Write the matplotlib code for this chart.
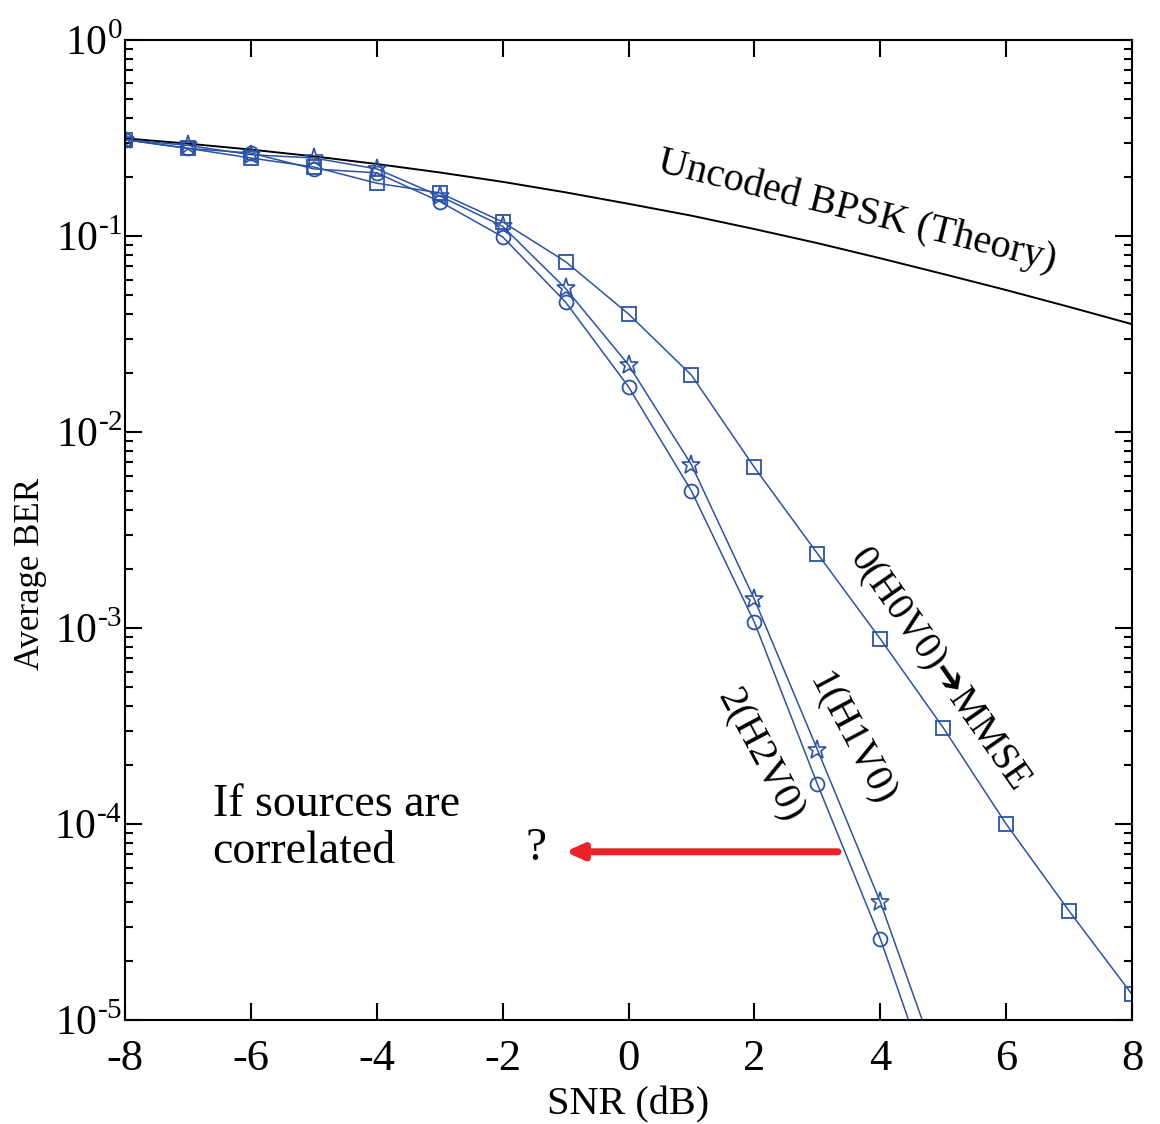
import numpy as np
import matplotlib
matplotlib.use("Agg")
import matplotlib.pyplot as plt
from matplotlib.ticker import LogLocator, FixedLocator, FuncFormatter

plt.rcParams['font.family'] = ['Liberation Serif', 'DejaVu Serif']
plt.rcParams['mathtext.fontset'] = 'custom'
plt.rcParams['mathtext.rm'] = 'Liberation Serif'
plt.rcParams['axes.unicode_minus'] = False

# SNR grid (dB)
snr = [-8, -7, -6, -5, -4, -3, -2, -1, 0, 1, 2, 3, 4, 5, 6, 7, 8]
snr_short = [-8, -7, -6, -5, -4, -3, -2, -1, 0, 1, 2, 3, 4, 5]

# values
ber_theory = [0.315, 0.296, 0.276, 0.255, 0.233, 0.211, 0.189, 0.167, 0.146,
              0.127, 0.1085, 0.092, 0.077, 0.064, 0.053, 0.0435, 0.0355]
ber_h0v0 = [0.31, 0.28, 0.25, 0.225, 0.186, 0.166, 0.118, 0.074, 0.040,
            0.0195, 0.0066, 0.0024, 8.8e-4, 3.1e-4, 1.0e-4, 3.6e-5, 1.35e-5]
ber_h1v0 = [0.31, 0.29, 0.26, 0.25, 0.22, 0.16, 0.112, 0.054, 0.022,
            0.0068, 0.0014, 2.4e-4, 4.0e-5, 5.0e-6]
ber_h2v0 = [0.31, 0.28, 0.265, 0.22, 0.21, 0.15, 0.099, 0.046, 0.017,
            0.005, 1.07e-3, 1.6e-4, 2.6e-5, 3.1e-6]

blue = '#2a52a8'


def decade_label(v, pos):
    # matlab style exponent with a plain hyphen
    e = int(round(np.log10(v)))
    if e < 0:
        return r'$10^{\text{-}%d}$' % (-e)
    return r'$10^{%d}$' % e


fig = plt.figure(figsize=(11.6, 11.24), dpi=100)
ax = fig.add_axes([0.1078, 0.0925, 0.8681, 0.8719])

ax.semilogy(snr, ber_theory, color='black', lw=1.4)
ax.semilogy(snr, ber_h0v0, color=blue, lw=1.1, marker='s', ms=10,
            mfc='none', mec=blue, mew=1.3)
ax.semilogy(snr_short, ber_h1v0, color=blue, lw=1.1, marker='*', ms=14,
            mfc='none', mec=blue, mew=1.2)
ax.semilogy(snr_short, ber_h2v0, color=blue, lw=1.1, marker='o', ms=10,
            mfc='none', mec=blue, mew=1.3)

ax.set_xlim(-8, 8)
ax.set_ylim(1e-5, 1)
ax.xaxis.set_major_locator(FixedLocator([-8, -6, -4, -2, 0, 2, 4, 6, 8]))
ax.yaxis.set_major_locator(LogLocator(base=10, numticks=10))
ax.yaxis.set_minor_locator(LogLocator(base=10, subs=np.arange(2, 10), numticks=20))
ax.yaxis.set_major_formatter(FuncFormatter(decade_label))
ax.tick_params(which='both', direction='in', top=True, right=True,
               labelsize=32, width=1.5)
ax.tick_params(which='major', length=12, pad=14)
ax.tick_params(which='minor', length=6)
ax.tick_params(axis='y', which='major', pad=2, labelsize=30)
ax.tick_params(axis='x', which='minor', top=False, bottom=False)
for s in ax.spines.values():
    s.set_linewidth(1.5)

ax.set_xlabel('SNR (dB)', fontsize=29, labelpad=5)
ax.set_ylabel('Average BER', fontsize=25)
ax.yaxis.set_label_coords(-0.078, 0.455)

ax.text(0.727, 0.825, 'Uncoded BPSK (Theory)', transform=ax.transAxes,
        fontsize=29, rotation=-14, ha='center', va='center')
ax.text(0.808, 0.357, '0(H0V0)\u2794MMSE', transform=ax.transAxes,
        fontsize=28, rotation=-55, ha='center', va='center',
        family=['Liberation Serif', 'DejaVu Sans'])
ax.text(0.72, 0.286, '1(H1V0)', transform=ax.transAxes,
        fontsize=29, rotation=-62, ha='center', va='center')
ax.text(0.63, 0.27, '2(H2V0)', transform=ax.transAxes,
        fontsize=29, rotation=-62, ha='center', va='center')
ax.text(0.087, 0.196, 'If sources are\ncorrelated', transform=ax.transAxes,
        fontsize=33, ha='left', va='center', linespacing=1.15)
ax.text(0.408, 0.175, '?', transform=ax.transAxes,
        fontsize=34, ha='center', va='center')

ax.annotate('', xy=(0.437, 0.1717), xytext=(0.708, 0.1717),
            xycoords='axes fraction',
            arrowprops=dict(arrowstyle='-|>,head_length=1.0,head_width=0.45',
                            color='#ec2227', lw=5, shrinkA=0, shrinkB=0))

fig.savefig('out.png', dpi=100)
